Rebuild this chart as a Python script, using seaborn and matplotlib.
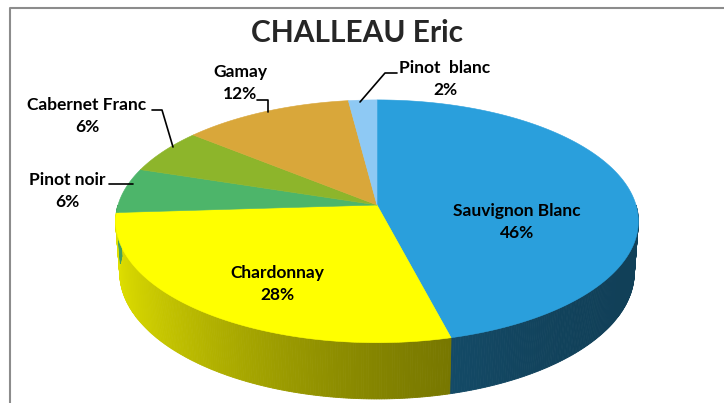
import numpy as np
import matplotlib
matplotlib.use('Agg')
import matplotlib.pyplot as plt
import seaborn as sns
from matplotlib.colors import to_rgb

# data (clockwise from 12 o'clock)
varieties = ['Sauvignon Blanc', 'Chardonnay', 'Pinot noir', 'Cabernet Franc', 'Gamay', 'Pinot  blanc']
shares = [46, 28, 6, 6, 12, 2]
colors = ['#2A9FDC', '#FFFF00', '#4DB56A', '#8DB52B', '#D9A73A', '#8EC9F4']
title = 'CHALLEAU Eric'

# label anchors (pixel coords, centre of the two-line label)
label_pos = {
    'Sauvignon Blanc': (517, 222),
    'Chardonnay': (277, 284),
    'Pinot noir': (67, 191),
    'Cabernet Franc': (87, 116),
    'Gamay': (240, 83),
    'Pinot  blanc': (445, 79),
}
leaders = {
    'Pinot noir': [(109, 184), (133, 184)],
    'Cabernet Franc': [(152, 110), (162, 110), (173, 147)],
    'Gamay': [(257, 100), (268, 100), (268, 112)],
    'Pinot  blanc': [(397, 73), (385, 73), (360, 102)],
}

# 3d view of the disc
CX, CY = 377, 205
F, D = 1712, 6.61
PHI = np.radians(27.4)
H = 0.225


def project(theta, y3):
    t = np.radians(theta)
    X, Z = np.sin(t), np.cos(t)
    yc = y3 * np.cos(PHI) + Z * np.sin(PHI)
    zc = D + Z * np.cos(PHI) - y3 * np.sin(PHI)
    return CX + F * X / zc, CY - F * yc / zc


def shade(base, theta):
    X = np.sin(np.radians(theta))
    k = 0.40 + 0.48 * ((1 - X) / 2) ** 2
    return tuple(np.array(to_rgb(base)) * k)


sns.set_style('white')
plt.rcParams['font.family'] = ['Lato', 'DejaVu Sans']

fig = plt.figure(figsize=(7.24, 4.03), dpi=100)
ax = fig.add_axes([0, 0, 1, 1])
ax.set_xlim(0, 724)
ax.set_ylim(403, 0)
ax.axis('off')

# chart frame
ax.plot([10, 10, 730], [410, 8, 8], color='#8C8C8C', lw=1.5)

bounds = np.concatenate([[0], np.cumsum(shares)]) * 3.6

# side walls (front part only)
for i, c in enumerate(colors):
    a0, a1 = max(bounds[i], 90), min(bounds[i + 1], 270)
    if a1 <= a0:
        continue
    steps = np.linspace(a0, a1, int((a1 - a0) * 2) + 2)
    for s0, s1 in zip(steps[:-1], steps[1:]):
        xt0, yt0 = project(s0, 0)
        xt1, yt1 = project(s1, 0)
        xb0, yb0 = project(s0, -H)
        xb1, yb1 = project(s1, -H)
        col = shade(c, (s0 + s1) / 2)
        ax.fill([xt0, xt1, xb1, xb0], [yt0, yt1, yb1, yb0], color=col, lw=0.6, ec=col)

# top surface
for i, c in enumerate(colors):
    th = np.linspace(bounds[i], bounds[i + 1], 200)
    xs, ys = project(th, 0)
    ax.fill(np.r_[CX, xs], np.r_[CY, ys], color=c, lw=0.4, ec=c)

ax.text(357, 33, title, ha='center', va='center', fontsize=21.5, fontweight='bold')

for name, pct in zip(varieties, shares):
    x, y = label_pos[name]
    ax.text(x, y, f'{name}\n{pct}%', ha='center', va='center', fontsize=12.5,
            fontweight='bold', linespacing=1.45, color='black')
    if name in leaders:
        lx, ly = zip(*leaders[name])
        ax.plot(lx, ly, color='black', lw=1.2)

fig.savefig('out.png', dpi=100)
